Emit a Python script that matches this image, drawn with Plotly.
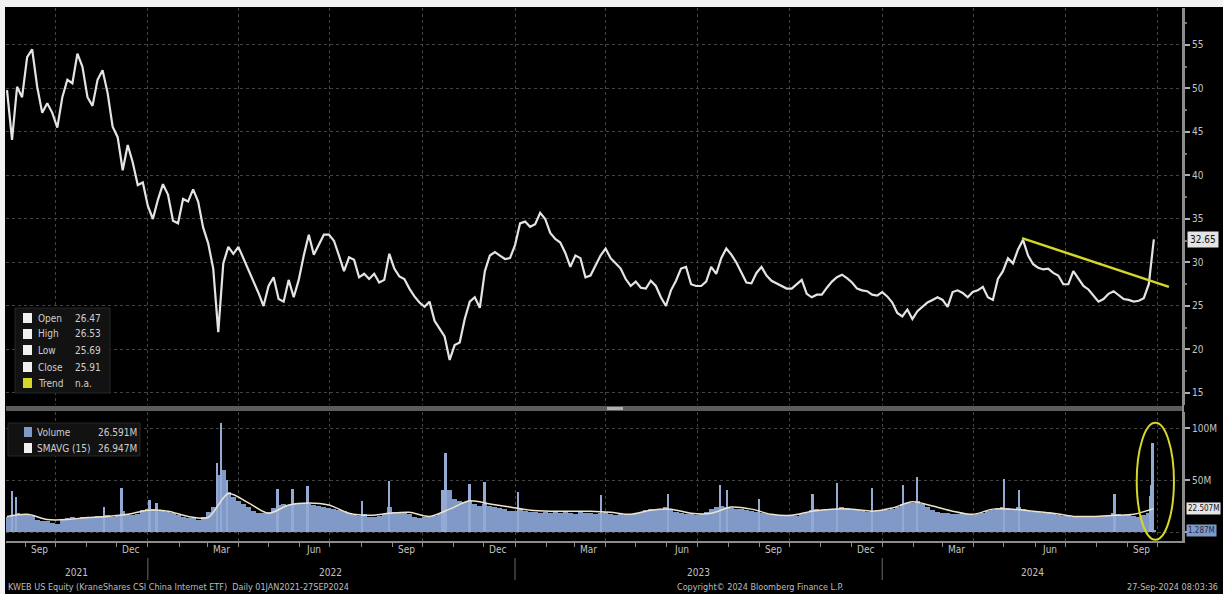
import plotly.graph_objects as go
import pandas as pd

# ---------------- data ----------------
# KWEB price, one reading every 5 calendar days, last = 27-Sep-2024
price_close = [
    49.8, 44.1, 50.2, 49.0, 53.6, 54.5, 50.2, 47.2, 48.3, 47.2,
    45.5, 49.0, 51.0, 50.6, 54.0, 52.5, 49.0, 48.0, 51.0, 52.1,
    49.5, 45.6, 44.4, 40.6, 43.5, 41.5, 38.9, 39.2, 36.5, 35.0,
    37.2, 39.0, 37.8, 34.8, 34.5, 37.3, 37.0, 38.4, 37.0, 34.0,
    32.2, 29.3, 22.0, 29.9, 31.8, 31.0, 31.8, 30.5, 29.1, 28.0,
    26.5, 25.0, 27.3, 28.3, 25.8, 25.5, 28.0, 26.0, 28.0, 30.8,
    33.2, 30.9, 32.0, 33.2, 33.2, 32.5, 30.8, 29.0, 30.6, 30.3,
    28.3, 28.7, 28.1, 28.7, 27.7, 28.0, 31.0, 29.3, 28.4, 28.1,
    27.0, 26.1, 25.4, 24.9, 25.5, 23.3, 22.4, 21.5, 18.8, 20.5,
    20.8, 23.5, 25.5, 26.0, 24.8, 29.0, 30.8, 31.2, 30.8, 30.4,
    30.5, 32.0, 34.5, 34.7, 34.1, 34.4, 35.7, 35.0, 33.4, 32.7,
    32.3, 31.1, 29.5, 30.8, 30.5, 28.3, 28.5, 29.6, 30.8, 31.6,
    30.5, 29.9, 29.3, 28.1, 27.3, 27.8, 27.1, 27.0, 27.9, 27.3,
    26.0, 25.0, 26.8, 27.9, 29.3, 29.5, 27.5, 27.3, 27.3, 27.8,
    29.5, 28.7, 30.5, 31.6, 30.9, 30.0, 28.8, 27.7, 27.6, 28.8,
    29.5, 28.5, 27.9, 27.6, 27.3, 27.0, 27.0, 27.5, 28.0, 26.4,
    26.0, 26.3, 26.3, 27.1, 27.8, 28.3, 28.6, 28.2, 27.7, 27.0,
    26.8, 26.7, 26.3, 26.2, 26.6, 26.1, 25.4, 24.2, 23.8, 24.6,
    23.5, 24.4, 24.9, 25.4, 25.7, 26.0, 25.7, 24.9, 26.6, 26.8,
    26.5, 26.0, 26.6, 26.8, 27.2, 26.0, 25.7, 28.1, 29.0, 30.5,
    29.9, 31.5, 32.6, 30.8, 29.8, 29.4, 29.2, 29.3, 28.8, 28.5,
    27.5, 27.5, 29.0, 28.1, 27.3, 26.9, 26.2, 25.5, 25.8, 26.4,
    26.7, 26.2, 25.8, 25.7, 25.5, 25.6, 25.9, 27.5, 32.65,
]

# typical volume level (millions) at the same 5-day readings
volume_base_m = [
    14, 16, 18, 16, 16, 15, 12, 11, 11, 9,
    8, 12, 13, 14, 13, 14, 13, 14, 15, 15,
    16, 14, 16, 20, 17, 16, 17, 21, 22, 22,
    20, 20, 19, 18, 16, 14, 13, 13, 12, 14,
    19, 24, 55, 60, 38, 34, 30, 27, 24, 20,
    18, 18, 19, 23, 26, 27, 26, 28, 27, 28,
    27, 26, 25, 24, 23, 22, 21, 20, 18, 16,
    15, 17, 14, 14, 15, 17, 24, 19, 18, 18,
    17, 14, 13, 14, 14, 15, 17, 38, 40, 32,
    30, 29, 30, 27, 25, 27, 25, 24, 23, 22,
    20, 20, 22, 20, 19, 19, 18, 19, 18, 19,
    18, 20, 18, 17, 19, 18, 18, 17, 18, 19,
    17, 16, 17, 16, 17, 17, 19, 21, 22, 21,
    22, 24, 21, 19, 18, 17, 17, 16, 17, 19,
    22, 24, 25, 24, 23, 22, 22, 21, 20, 19,
    18, 17, 17, 16, 16, 15, 16, 15, 17, 19,
    21, 22, 21, 22, 21, 22, 24, 23, 22, 21,
    20, 19, 20, 21, 21, 21, 22, 24, 27, 28,
    28, 30, 27, 24, 21, 19, 18, 18, 17, 17,
    18, 17, 16, 17, 18, 20, 21, 23, 24, 23,
    22, 24, 22, 20, 19, 19, 18, 19, 18, 16,
    15, 15, 14, 15, 14, 15, 15, 14, 15, 16,
    18, 17, 16, 16, 15, 14, 16, 18, 1.3,
]

# SMAVG(15) of volume, read every 4th reading (every 20 days)
smavg_15_m = [
    15, 17, 12, 12, 14, 15, 17, 21, 20, 15,
    14, 37, 28, 18, 26, 28, 26, 18, 16, 18,
    19, 15, 22, 30, 27, 24, 21, 20, 20, 20,
    19, 17, 21, 22, 18, 18, 24, 22, 17, 16,
    20, 22, 22, 20, 23, 29, 25, 20, 17, 22,
    22, 20, 18, 15, 15, 16, 17, 22.5,
]

# single-day volume spikes (millions)
spike_dates = [
    "2021-08-19", "2021-08-23", "2021-11-19", "2021-12-06", "2022-01-03",
    "2022-01-10", "2022-03-11", "2022-03-15", "2022-03-21", "2022-05-10",
    "2022-05-25", "2022-06-09", "2022-08-02", "2022-08-29", "2022-10-21",
    "2022-10-24", "2022-11-17", "2022-12-02", "2023-01-04", "2023-03-28",
    "2023-06-02", "2023-07-24", "2023-07-31", "2023-09-01", "2023-10-24",
    "2023-11-17", "2023-12-22", "2024-01-22", "2024-02-05", "2024-05-01",
    "2024-05-16", "2024-08-19", "2024-09-24", "2024-09-25", "2024-09-26",
]
spike_vols_m = [
    39, 34, 24, 42, 31, 28, 66, 105, 50, 41,
    41, 44, 30, 49, 40, 76, 46, 48, 38, 36,
    37, 45, 40, 32, 37, 47, 42, 45, 53, 51,
    40, 37, 35, 45, 86,
]

trend_dates = ["2024-05-19", "2024-10-12"]
trend_values = [32.8, 27.2]

month_label_dates = ["2021-09-15", "2021-12-15", "2022-03-15", "2022-06-15",
                     "2022-09-15", "2022-12-15", "2023-03-15", "2023-06-15",
                     "2023-09-15", "2023-12-15", "2024-03-15", "2024-06-15",
                     "2024-09-15"]
month_labels = ["Sep", "Dec", "Mar", "Jun", "Sep", "Dec", "Mar", "Jun",
                "Sep", "Dec", "Mar", "Jun", "Sep"]
year_label_dates = ["2021-10-22", "2022-07-02", "2023-07-02", "2024-05-29"]
year_labels = ["2021", "2022", "2023", "2024"]
year_breaks = ["2022-01-01", "2023-01-01", "2024-01-01"]

price_ticks = [15, 20, 25, 30, 35, 40, 45, 50, 55]
vol_ticks = [0, 50, 100]
vol_tick_text = ["", "50M", "100M"]

price_legend_names = ["Open", "High", "Low", "Close", "Trend"]
price_legend_values = ["26.47", "26.53", "25.69", "25.91", "n.a."]
vol_legend_names = ["Volume", "SMAVG (15)"]
vol_legend_values = ["26.591M", "26.947M"]

last_price = 32.65
last_smavg = 22.507
last_volume = 1.287

# ---------------- figure ----------------
W, H = 1223, 594
L, R, T, B = 6, 1183, 8, 541           # plot area in pixels


def px(x):
    return (x - L) / (R - L)


def py(y):
    return (B - y) / (B - T)


DAY = 86400000
dates = pd.date_range(end="2024-09-27", periods=len(price_close), freq="5D")
sma_dates = dates[::4]
quarter_starts = pd.date_range("2021-10-01", "2024-10-01", freq="QS")
x_range = ["2021-08-13", "2024-10-26"]

FONT = "Liberation Sans Narrow, Arial Narrow, DejaVu Sans Condensed, Liberation Sans, sans-serif"
TXT = "#c4c4c4"
GRID = "#444444"
AXIS = "#8c8c8c"
YELLOW = "#d6d628"
VOLBLUE = "#8199c6"

fig = go.Figure()
fig.add_trace(go.Scatter(x=dates, y=price_close, mode="lines",
                         line=dict(color="#e4e4e4", width=2.2),
                         xaxis="x", yaxis="y", hoverinfo="skip"))
fig.add_trace(go.Bar(x=dates, y=volume_base_m, width=5 * DAY,
                     marker=dict(color=VOLBLUE, line=dict(width=0)),
                     xaxis="x2", yaxis="y2"))
fig.add_trace(go.Bar(x=spike_dates, y=spike_vols_m, width=1.8 * DAY,
                     marker=dict(color="#93aad4", line=dict(width=0)),
                     xaxis="x2", yaxis="y2"))
fig.add_trace(go.Scatter(x=sma_dates, y=smavg_15_m, mode="lines",
                         line=dict(color="#ece4cc", width=1.5, shape="spline", smoothing=0.8),
                         xaxis="x2", yaxis="y2"))

common_x = dict(range=x_range, type="date", tickmode="array", tickvals=quarter_starts,
                ticktext=[""] * len(quarter_starts), showgrid=True, gridcolor=GRID,
                griddash="dot", gridwidth=1, zeroline=False)

fig.update_layout(
    width=W, height=H,
    margin=dict(l=L, r=W - R, t=T, b=H - B),
    paper_bgcolor="#000000", plot_bgcolor="#000000",
    showlegend=False, barmode="overlay", bargap=0,
    font=dict(family=FONT, size=10, color=TXT),
    xaxis=dict(domain=[0, 1], anchor="y", showticklabels=False, ticks="", **common_x),
    xaxis2=dict(domain=[0, 1], anchor="y2", ticks="outside", ticklen=4, tickcolor=AXIS,
                showline=True, linecolor=AXIS, linewidth=2,
                minor=dict(ticks="outside", ticklen=4, tickcolor=AXIS, dtick="M1",
                           tick0="2021-08-01", showgrid=False),
                **common_x),
    yaxis=dict(domain=[py(405), 1], anchor="x", side="right", range=[13.62, 59.25],
               tickmode="array", tickvals=price_ticks, ticks="outside", ticklen=5,
               tickcolor="#b0b0b0", tickwidth=2, tickfont=dict(size=10, color=TXT),
               showgrid=True, gridcolor=GRID, griddash="dot", zeroline=False,
               showline=True, linecolor=AXIS, linewidth=2,
               minor=dict(ticks="outside", ticklen=2, tickcolor="#777", dtick=2.5, showgrid=False)),
    yaxis2=dict(domain=[0, py(412)], anchor="x2", side="right", range=[-8.65, 115.4],
                tickmode="array", tickvals=vol_ticks, ticktext=vol_tick_text,
                ticks="outside", ticklen=5, tickcolor="#b0b0b0", tickwidth=2,
                tickfont=dict(size=10, color=TXT),
                showgrid=True, gridcolor=GRID, griddash="dot", zeroline=False,
                showline=True, linecolor=AXIS, linewidth=2),
)

shapes = []
annotations = []

# white frame strips (left and top edges of the screenshot)
shapes.append(dict(type="rect", xref="paper", yref="paper", x0=px(0), x1=px(5),
                   y0=py(H), y1=py(0), fillcolor="#f2f2f2", line=dict(width=0), layer="above"))
shapes.append(dict(type="rect", xref="paper", yref="paper", x0=px(0), x1=px(W),
                   y0=py(7), y1=py(0), fillcolor="#f2f2f2", line=dict(width=0), layer="above"))

# panel separator
shapes.append(dict(type="rect", xref="paper", yref="paper", x0=0, x1=1,
                   y0=py(411), y1=py(406), fillcolor="#5c5c5c", line=dict(width=0)))
shapes.append(dict(type="rect", xref="paper", yref="paper", x0=px(607), x1=px(623),
                   y0=py(410), y1=py(407), fillcolor="#b0b0b0", line=dict(width=0)))
# right axis line across full height
shapes.append(dict(type="line", xref="paper", yref="paper", x0=1, x1=1, y0=0, y1=py(T),
                   line=dict(color=AXIS, width=2)))

# trend line and highlight ellipse
shapes.append(dict(type="line", xref="x", yref="y", x0=trend_dates[0], y0=trend_values[0],
                   x1=trend_dates[1], y1=trend_values[1], line=dict(color=YELLOW, width=2.5)))
shapes.append(dict(type="circle", xref="x2", yref="y2", x0="2024-09-10", x1="2024-10-17",
                   y0=-7.5, y1=105, line=dict(color=YELLOW, width=2)))

# year separators under the axis
for d in year_breaks:
    shapes.append(dict(type="line", xref="x2", yref="paper", x0=d, x1=d,
                       y0=py(580), y1=py(558), line=dict(color="#6a6a6a", width=1)))

# price legend box
shapes.append(dict(type="rect", xref="paper", yref="paper", x0=px(15), x1=px(110),
                   y0=py(393), y1=py(308), fillcolor="#121212",
                   line=dict(color="#262626", width=1), layer="above"))
row_y = [318, 334, 350, 367, 383]
for i, (name, val) in enumerate(zip(price_legend_names, price_legend_values)):
    col = YELLOW if name == "Trend" else "#f0f0f0"
    shapes.append(dict(type="rect", xref="paper", yref="paper", x0=px(23), x1=px(32),
                       y0=py(row_y[i] + 5), y1=py(row_y[i] - 5), fillcolor=col,
                       line=dict(width=0), layer="above"))
    annotations.append(dict(xref="paper", yref="paper", x=px(36), y=py(row_y[i]),
                            text=name, showarrow=False, xanchor="left", yanchor="middle",
                            font=dict(size=10, color="#cfcfcf")))
    annotations.append(dict(xref="paper", yref="paper", x=px(73), y=py(row_y[i]),
                            text=val, showarrow=False, xanchor="left", yanchor="middle",
                            font=dict(size=10, color="#cfcfcf")))

# volume legend box
shapes.append(dict(type="rect", xref="paper", yref="paper", x0=px(8), x1=px(140),
                   y0=py(456), y1=py(423), fillcolor="#121212",
                   line=dict(color="#262626", width=1), layer="above"))
vrow_y = [432, 448]
vcols = [VOLBLUE, "#f0f0f0"]
for i, (name, val) in enumerate(zip(vol_legend_names, vol_legend_values)):
    shapes.append(dict(type="rect", xref="paper", yref="paper", x0=px(24), x1=px(32),
                       y0=py(vrow_y[i] + 5), y1=py(vrow_y[i] - 5), fillcolor=vcols[i],
                       line=dict(width=0), layer="above"))
    annotations.append(dict(xref="paper", yref="paper", x=px(35), y=py(vrow_y[i]),
                            text=name, showarrow=False, xanchor="left", yanchor="middle",
                            font=dict(size=10, color="#cfcfcf")))
    annotations.append(dict(xref="paper", yref="paper", x=px(96), y=py(vrow_y[i]),
                            text=val, showarrow=False, xanchor="left", yanchor="middle",
                            font=dict(size=10, color="#cfcfcf")))

# last-value tags on the right axis
annotations.append(dict(xref="paper", yref="y", x=px(1187), y=last_price,
                        text=f"{last_price:.2f}", showarrow=False, xanchor="left",
                        yanchor="middle", bgcolor="#e4e4e4", borderpad=2,
                        font=dict(size=10, color="#111111")))
annotations.append(dict(xref="paper", yref="y2", x=px(1186), y=last_smavg,
                        text=f"{last_smavg:.3f}M", showarrow=False, xanchor="left",
                        yanchor="middle", bgcolor="#e4e4e4", borderpad=1,
                        font=dict(size=8, color="#111111")))
annotations.append(dict(xref="paper", yref="y2", x=px(1186), y=last_volume,
                        text=f"{last_volume:.3f}M", showarrow=False, xanchor="left",
                        yanchor="middle", bgcolor=VOLBLUE, borderpad=1,
                        font=dict(size=8, color="#1a2a4a")))

# month and year labels
for d, t in zip(month_label_dates, month_labels):
    annotations.append(dict(xref="x2", yref="paper", x=d, y=py(549), text=t,
                            showarrow=False, xanchor="center", yanchor="middle",
                            font=dict(size=10, color=TXT)))
for d, t in zip(year_label_dates, year_labels):
    annotations.append(dict(xref="x2", yref="paper", x=d, y=py(572), text=t,
                            showarrow=False, xanchor="center", yanchor="middle",
                            font=dict(size=10, color=TXT)))

# footer
annotations.append(dict(xref="paper", yref="paper", x=px(6), y=py(587),
                        text="KWEB US Equity (KraneShares CSI China Internet ETF)  Daily 01JAN2021-27SEP2024",
                        showarrow=False, xanchor="left", yanchor="middle",
                        font=dict(size=9, color="#bdbdbd")))
annotations.append(dict(xref="paper", yref="paper", x=px(760), y=py(587),
                        text="Copyright© 2024 Bloomberg Finance L.P.",
                        showarrow=False, xanchor="center", yanchor="middle",
                        font=dict(size=9, color="#bdbdbd")))
annotations.append(dict(xref="paper", yref="paper", x=px(1220), y=py(587),
                        text="27-Sep-2024 08:03:36",
                        showarrow=False, xanchor="right", yanchor="middle",
                        font=dict(size=9, color="#bdbdbd")))

fig.update_layout(shapes=shapes, annotations=annotations)
fig.write_html("out.html",
               config={"displayModeBar": False},
               post_script="document.body.style.margin='0';document.body.style.overflow='hidden';")
